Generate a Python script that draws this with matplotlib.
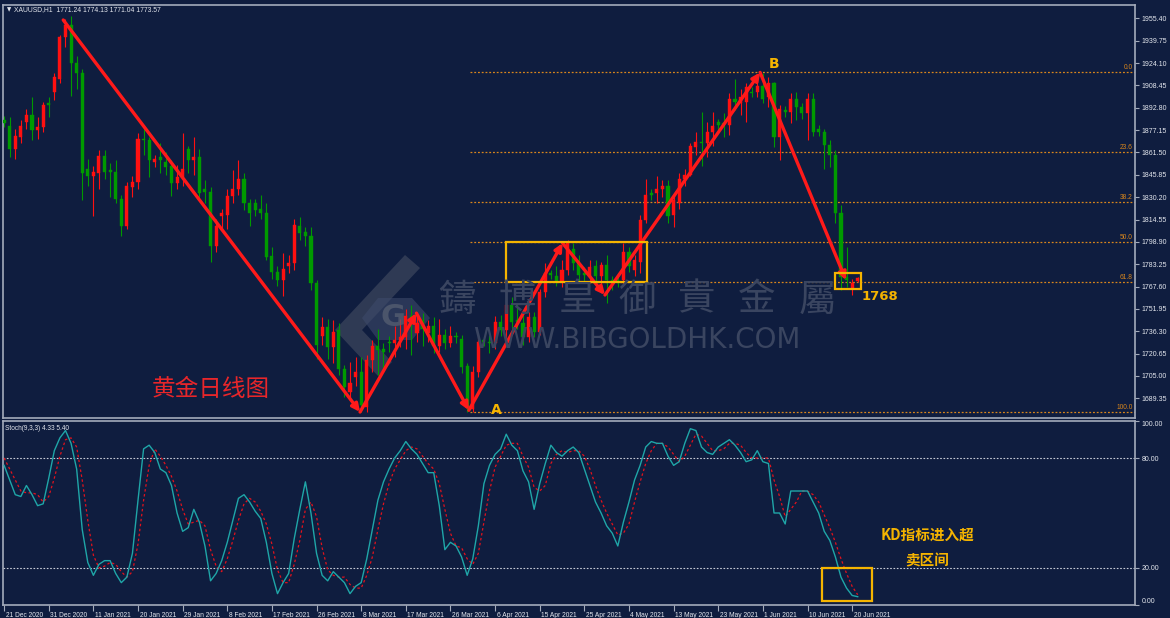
import matplotlib
matplotlib.use('Agg')
import matplotlib.pyplot as plt
from matplotlib.patches import Rectangle, Polygon
import matplotlib.transforms as mtransforms

# ---------------- data ----------------
date_labels = ['21 Dec 2020', '31 Dec 2020', '11 Jan 2021', '20 Jan 2021', '29 Jan 2021',
               '8 Feb 2021', '17 Feb 2021', '26 Feb 2021', '8 Mar 2021', '17 Mar 2021',
               '26 Mar 2021', '6 Apr 2021', '15 Apr 2021', '25 Apr 2021', '4 May 2021',
               '13 May 2021', '23 May 2021', '1 Jun 2021', '10 Jun 2021', '20 Jun 2021']
date_label_bars = [0, 8, 16, 24, 32, 40, 48, 56, 64, 72, 80, 88, 96, 104, 112, 120, 128, 136, 144, 152]

opens = [1884, 1880, 1864, 1872, 1883, 1888, 1877, 1879, 1896, 1904,
         1913, 1942, 1951, 1924, 1917, 1850, 1845, 1847, 1859, 1849,
         1848, 1829, 1810, 1837, 1841, 1871, 1870, 1855, 1858, 1855,
         1852, 1840, 1844, 1864, 1856, 1858, 1836, 1834, 1796, 1817,
         1818, 1831, 1836, 1843, 1826, 1826, 1822, 1819, 1789, 1778,
         1772, 1782, 1784, 1810, 1806, 1803, 1770, 1733, 1739, 1725,
         1737, 1710, 1694, 1704, 1708, 1683, 1716, 1726, 1724, 1729,
         1728, 1730, 1732, 1747, 1735, 1744, 1735, 1740, 1726, 1734,
         1728, 1733, 1731, 1712, 1682, 1708, 1730, 1729, 1728, 1743,
         1737, 1755, 1744, 1742, 1732, 1746, 1736, 1764, 1777, 1775,
         1771, 1779, 1794, 1784, 1777, 1775, 1782, 1775, 1783, 1772,
         1772, 1772, 1792, 1779, 1785, 1814, 1833, 1833, 1836, 1838,
         1818, 1826, 1843, 1846, 1865, 1869, 1868, 1876, 1883, 1882,
         1881, 1899, 1896, 1897, 1904, 1904, 1908, 1900, 1910, 1872,
         1891, 1890, 1899, 1893, 1889, 1899, 1878, 1876, 1867, 1860,
         1819, 1774, 1766, 1771.24]
highs = [1887, 1886, 1878, 1884, 1892, 1900, 1886, 1897, 1900, 1917,
         1944, 1955, 1957, 1929, 1920, 1857, 1852, 1863, 1863, 1854,
         1856, 1832, 1841, 1845, 1875, 1878, 1872, 1860, 1868, 1862,
         1856, 1853, 1875, 1866, 1872, 1864, 1842, 1837, 1815, 1822,
         1836, 1849, 1856, 1847, 1829, 1829, 1832, 1826, 1795, 1782,
         1791, 1790, 1815, 1816, 1809, 1809, 1772, 1746, 1745, 1744,
         1742, 1713, 1715, 1718, 1718, 1720, 1730, 1738, 1728, 1733,
         1740, 1745, 1752, 1755, 1747, 1749, 1744, 1746, 1745, 1738,
         1740, 1736, 1734, 1714, 1712, 1732, 1733, 1734, 1747, 1748,
         1758, 1760, 1756, 1749, 1750, 1750, 1766, 1784, 1779, 1782,
         1786, 1800, 1798, 1790, 1781, 1786, 1786, 1785, 1790, 1775,
         1776, 1798, 1795, 1790, 1818, 1843, 1836, 1845, 1842, 1842,
         1832, 1847, 1850, 1868, 1876, 1890, 1883, 1890, 1885, 1889,
         1903, 1913, 1906, 1910, 1907, 1914, 1917, 1914, 1911, 1895,
         1894, 1903, 1904, 1896, 1903, 1903, 1881, 1878, 1870, 1863,
         1825, 1795, 1773, 1774.13]
lows = [1879, 1858, 1857, 1868, 1878, 1870, 1871, 1876, 1886, 1898,
        1910, 1935, 1901, 1906, 1828, 1838, 1817, 1836, 1843, 1830,
        1826, 1803, 1808, 1830, 1836, 1860, 1844, 1851, 1847, 1846,
        1831, 1836, 1838, 1847, 1846, 1830, 1826, 1785, 1792, 1808,
        1808, 1826, 1832, 1821, 1810, 1817, 1815, 1786, 1773, 1768,
        1761, 1777, 1779, 1800, 1796, 1765, 1717, 1727, 1717, 1714,
        1706, 1690, 1688, 1698, 1680, 1680, 1708, 1706, 1708, 1722,
        1718, 1725, 1724, 1720, 1729, 1726, 1729, 1721, 1722, 1724,
        1725, 1728, 1707, 1680, 1680, 1704, 1726, 1721, 1724, 1733,
        1731, 1735, 1738, 1727, 1729, 1732, 1734, 1760, 1773, 1768,
        1767, 1776, 1779, 1770, 1771, 1770, 1770, 1769, 1756, 1765,
        1767, 1768, 1778, 1775, 1777, 1812, 1828, 1826, 1830, 1812,
        1809, 1822, 1838, 1845, 1860, 1852, 1858, 1866, 1877, 1872,
        1874, 1891, 1888, 1883, 1900, 1900, 1896, 1893, 1865, 1856,
        1886, 1882, 1884, 1885, 1870, 1873, 1873, 1850, 1851, 1812,
        1765, 1767, 1762, 1771.04]
closes = [1882, 1864, 1873, 1880, 1888, 1877, 1879, 1895, 1895, 1914,
          1942, 1951, 1924, 1917, 1847, 1845, 1848, 1859, 1848, 1848,
          1829, 1810, 1838, 1841, 1871, 1870, 1856, 1857, 1856, 1851,
          1840, 1844, 1850, 1856, 1858, 1833, 1834, 1796, 1810, 1819,
          1831, 1836, 1843, 1826, 1819, 1821, 1819, 1788, 1778, 1772,
          1780, 1784, 1811, 1805, 1803, 1770, 1727, 1739, 1725, 1736,
          1710, 1697, 1700, 1708, 1685, 1716, 1726, 1723, 1722, 1728,
          1730, 1732, 1747, 1742, 1742, 1738, 1740, 1726, 1734, 1728,
          1733, 1732, 1711, 1683, 1708, 1729, 1729, 1728, 1743, 1737,
          1755, 1743, 1743, 1732, 1746, 1736, 1764, 1777, 1776, 1771,
          1779, 1798, 1784, 1776, 1776, 1781, 1775, 1783, 1772, 1770,
          1771, 1792, 1782, 1786, 1814, 1832, 1832, 1836, 1838, 1817,
          1828, 1843, 1846, 1866, 1869, 1868, 1876, 1880, 1881, 1881,
          1899, 1897, 1900, 1907, 1903, 1908, 1899, 1910, 1872, 1892,
          1890, 1899, 1893, 1889, 1899, 1876, 1876, 1867, 1860, 1819,
          1774, 1772, 1770, 1773.57]

stoch_k = [76, 68, 60, 59, 65, 60, 54, 55, 69, 84,
           91, 95, 88, 74, 41, 23, 16, 22, 24, 24,
           17, 12, 15, 28, 57, 85, 87, 83, 74, 72,
           65, 50, 40, 42, 52, 45, 32, 13, 17, 24,
           34, 46, 58, 60, 56, 51, 47, 34, 17, 6,
           12, 17, 36, 52, 67, 50, 28, 16, 13, 18,
           15, 12, 6, 10, 12, 25, 41, 57, 67, 74,
           80, 84, 89, 85, 82, 77, 72, 72, 54, 30,
           34, 32, 26, 16, 25, 43, 66, 76, 82, 85,
           93, 87, 84, 73, 67, 52, 66, 77, 87, 83,
           81, 84, 86, 83, 74, 65, 56, 50, 43, 39,
           32, 45, 56, 68, 76, 86, 89, 88, 88, 81,
           76, 78, 88, 96, 95, 86, 83, 82, 86, 88,
           90, 87, 83, 78, 79, 84, 78, 77, 50, 50,
           44, 62, 62, 62, 62, 56, 50, 40, 35, 26,
           15, 9, 5, 4.33]
stoch_d = [80, 74, 68, 62, 61, 61, 60, 56, 59, 69,
           81, 90, 91, 86, 68, 46, 27, 20, 21, 23,
           22, 18, 15, 18, 33, 57, 76, 85, 81, 76,
           70, 62, 52, 44, 45, 46, 43, 30, 21, 18,
           25, 35, 46, 55, 58, 56, 51, 44, 33, 19,
           12, 12, 22, 35, 52, 56, 48, 31, 19, 16,
           15, 15, 11, 9, 9, 16, 26, 41, 55, 66,
           74, 79, 84, 86, 85, 81, 77, 74, 66, 52,
           39, 32, 31, 25, 22, 28, 45, 62, 75, 81,
           87, 88, 88, 81, 75, 64, 62, 65, 77, 82,
           84, 83, 84, 84, 81, 74, 65, 57, 50, 44,
           38, 39, 44, 56, 67, 77, 84, 88, 88, 86,
           82, 78, 81, 87, 93, 92, 88, 84, 84, 85,
           88, 88, 87, 83, 80, 80, 80, 80, 68, 59,
           48, 52, 56, 62, 62, 60, 56, 49, 42, 34,
           25, 17, 10, 5.40]

zz_bar = [10.6, 63.8, 73.9, 83.3, 100.1, 107.7, 135.5, 150.9]
zz_price = [1954.2, 1679.8, 1749.0, 1681.0, 1798.0, 1761.7, 1917.5, 1772.0]

fib_high = 1917.8
fib_low = 1679.8
fib_levels = [0.0, 23.6, 38.2, 50.0, 61.8, 100.0]
fib_start_bar = 83.5

box1_bars = (90.0, 115.3)
box1_prices = (1770.7, 1798.9)
box2_bars = (148.9, 153.6)
box2_prices = (1765.6, 1776.8)
stoch_box_bars = (146.6, 155.5)
stoch_box_vals = (2.0, 20.0)

price_ticks = [1955.40, 1939.75, 1924.10, 1908.45, 1892.80, 1877.15, 1861.50, 1845.85,
               1830.20, 1814.55, 1798.90, 1783.25, 1767.60, 1751.95, 1736.30, 1720.65,
               1705.00, 1689.35]
stoch_ticks = [0, 20, 80, 100]

# ---------------- style ----------------
W, H = 1170, 618
BG = '#0f1d3f'
FRAME = '#a3abbb'
TXT = '#e4e7ee'
UP = '#ff1010'
DN = '#009a00'
GOLD = '#f5b400'
FIBC = '#d9861c'
SMALL = ['Liberation Sans', 'DejaVu Sans']

fig = plt.figure(figsize=(W / 100, H / 100), dpi=100)
fig.patch.set_facecolor(BG)


def fx(px):
    return px / W


def fy(py):
    return 1 - py / H


ax = fig.add_axes([fx(3), fy(418), (1135 - 3) / W, (418 - 5) / H])
ax2 = fig.add_axes([fx(3), fy(605), (1135 - 3) / W, (605 - 421) / H])

XL = (-0.2, 202.7)
for a in (ax, ax2):
    a.set_facecolor(BG)
    a.set_xlim(*XL)
    for s in a.spines.values():
        s.set_color(FRAME)
        s.set_linewidth(1.2)

# ---------------- candles ----------------
n = len(opens)
for i in range(n):
    o, h, l, c = opens[i], highs[i], lows[i], closes[i]
    col = UP if c >= o else DN
    ax.vlines(i, l, h, color=col, lw=0.8, zorder=2)
    bottom = min(o, c)
    height = max(abs(c - o), 0.9)
    ax.bar(i, height, bottom=bottom, width=0.55, color=col, edgecolor=col, lw=0.3, zorder=3)

ax.set_ylim(1675.6, 1964.7)
ax.set_xticks([])
ax.yaxis.tick_right()
ax.set_yticks(price_ticks)
ax.set_yticklabels(['%.2f' % v for v in price_ticks])
ax.tick_params(axis='y', colors=FRAME, labelcolor=TXT, length=3, width=0.8, pad=1.5,
               labelsize=5)
for t in ax.get_yticklabels():
    t.set_fontfamily(SMALL)

# fib levels
rng = fib_high - fib_low
for lv in fib_levels:
    p = fib_high - lv / 100.0 * rng
    ax.plot([fib_start_bar, XL[1]], [p, p], color=FIBC, lw=0.9, ls=(0, (1.5, 1.5)), zorder=1)
    ax.text(XL[1] - 0.4, p + 0.6, '%.1f' % lv, color=FIBC, fontsize=4.8, ha='right', va='bottom',
            family=SMALL, zorder=5)

# zigzag
for i in range(len(zz_bar) - 1):
    ax.annotate('', xy=(zz_bar[i + 1], zz_price[i + 1]), xytext=(zz_bar[i], zz_price[i]),
                arrowprops=dict(arrowstyle='-|>,head_length=0.45,head_width=0.22', color='#ff1a1a',
                                lw=2.4, shrinkA=0, shrinkB=0), zorder=6)

# boxes
ax.add_patch(Rectangle((box1_bars[0], box1_prices[0]), box1_bars[1] - box1_bars[0],
                       box1_prices[1] - box1_prices[0], fill=False, ec=GOLD, lw=1.6, zorder=7))
ax.add_patch(Rectangle((box2_bars[0], box2_prices[0]), box2_bars[1] - box2_bars[0],
                       box2_prices[1] - box2_prices[0], fill=False, ec=GOLD, lw=1.6, zorder=7))

# ---------------- stochastic ----------------
xs = list(range(len(stoch_k)))
ax2.set_ylim(-0.2, 100.2)
for lv in (20, 80):
    ax2.axhline(lv, color='#c9cdd8', lw=0.8, ls=(0, (1.5, 1.5)), zorder=1)
ax2.plot(xs, stoch_d, color='#e3121c', lw=0.9, ls=(0, (2, 2)), zorder=3)
ax2.plot(xs, stoch_k, color='#1fa6a8', lw=1.0, zorder=4)
ax2.add_patch(Rectangle((stoch_box_bars[0], stoch_box_vals[0]), stoch_box_bars[1] - stoch_box_bars[0],
                        stoch_box_vals[1] - stoch_box_vals[0], fill=False, ec=GOLD, lw=1.6, zorder=7))
ax2.yaxis.tick_right()
ax2.set_yticks(stoch_ticks)
ax2.set_yticklabels(['%.2f' % v for v in stoch_ticks])
ax2.tick_params(axis='y', colors=FRAME, labelcolor=TXT, length=3, width=0.8, pad=1.5, labelsize=5)
for t in ax2.get_yticklabels():
    t.set_fontfamily(SMALL)
labs = ax2.get_yticklabels()
labs[0].set_va('bottom')
labs[-1].set_va('top')

ax2.set_xticks(date_label_bars)
ax2.set_xticklabels(date_labels)
ax2.tick_params(axis='x', colors=FRAME, labelcolor=TXT, length=4, width=0.8, pad=1, labelsize=4.8)
off = mtransforms.ScaledTranslation(1.5 / 100, 0, fig.dpi_scale_trans)
for t in ax2.get_xticklabels():
    t.set_fontfamily(SMALL)
    t.set_ha('left')
    t.set_transform(t.get_transform() + off)

# ---------------- texts ----------------
fig.text(fx(7), fy(10), '\u25bc', color=TXT, fontsize=4, ha='left', va='center')
fig.text(fx(14), fy(10), 'XAUUSD,H1  1771.24 1774.13 1771.04 1773.57', color=TXT, fontsize=4.9,
         ha='left', va='center', family=SMALL)
fig.text(fx(5), fy(428), 'Stoch(9,3,3) 4.33 5.40', color=TXT, fontsize=4.7, ha='left', va='center',
         family=SMALL)

# watermark
WM = '#3a4560'
ax.add_patch(Polygon([[fx(405), fy(255)], [fx(420), fy(268)], [fx(362), fy(330)], [fx(392), fy(362)],
                      [fx(378), fy(376)], [fx(335), fy(330)]], closed=True, transform=fig.transFigure,
                     fc='#4a5266', ec='none', alpha=0.55, zorder=0.5))
ax.add_patch(Polygon([[fx(378), fy(298)], [fx(412), fy(298)], [fx(430), fy(318)], [fx(412), fy(340)],
                      [fx(378), fy(340)], [fx(362), fy(318)]], closed=True, transform=fig.transFigure,
                     fc='#3d4a6a', ec='none', alpha=0.6, zorder=0.5))
fig.text(fx(393), fy(318), 'G', color='#5a6274', fontsize=22, fontweight='bold', ha='center',
         va='center', alpha=0.7)
wm_chars = '鑄博皇御貴金屬'
for k, ch in enumerate(wm_chars):
    fig.text(fx(457 + 60 * k), fy(300), ch, color=WM, fontsize=27, ha='center', va='center',
             family=['Noto Sans CJK TC', 'DejaVu Sans'])
fig.text(fx(637), fy(340), 'WWW.BIBGOLDHK.COM', color=WM, fontsize=20, ha='center', va='center',
         family='DejaVu Sans')

fig.text(fx(211), fy(390), '黄金日线图', color='#e8262a', fontsize=17, ha='center', va='center',
         family=['Noto Sans CJK SC', 'DejaVu Sans'])
fig.text(fx(927), fy(535), 'KD指标进入超', color=GOLD, fontsize=10.5, fontweight='bold', ha='center',
         va='center', family=['Noto Sans CJK SC', 'DejaVu Sans'])
fig.text(fx(927), fy(560), '卖区间', color=GOLD, fontsize=10.5, fontweight='bold', ha='center',
         va='center', family=['Noto Sans CJK SC', 'DejaVu Sans'])
fig.text(fx(880), fy(297), '1768', color=GOLD, fontsize=9.5, fontweight='bold', ha='center',
         va='center')
fig.text(fx(496), fy(410), 'A', color=GOLD, fontsize=10, fontweight='bold', ha='center', va='center')
fig.text(fx(774), fy(64), 'B', color=GOLD, fontsize=10, fontweight='bold', ha='center', va='center')

fig.savefig('out.png', dpi=100, facecolor=BG)
